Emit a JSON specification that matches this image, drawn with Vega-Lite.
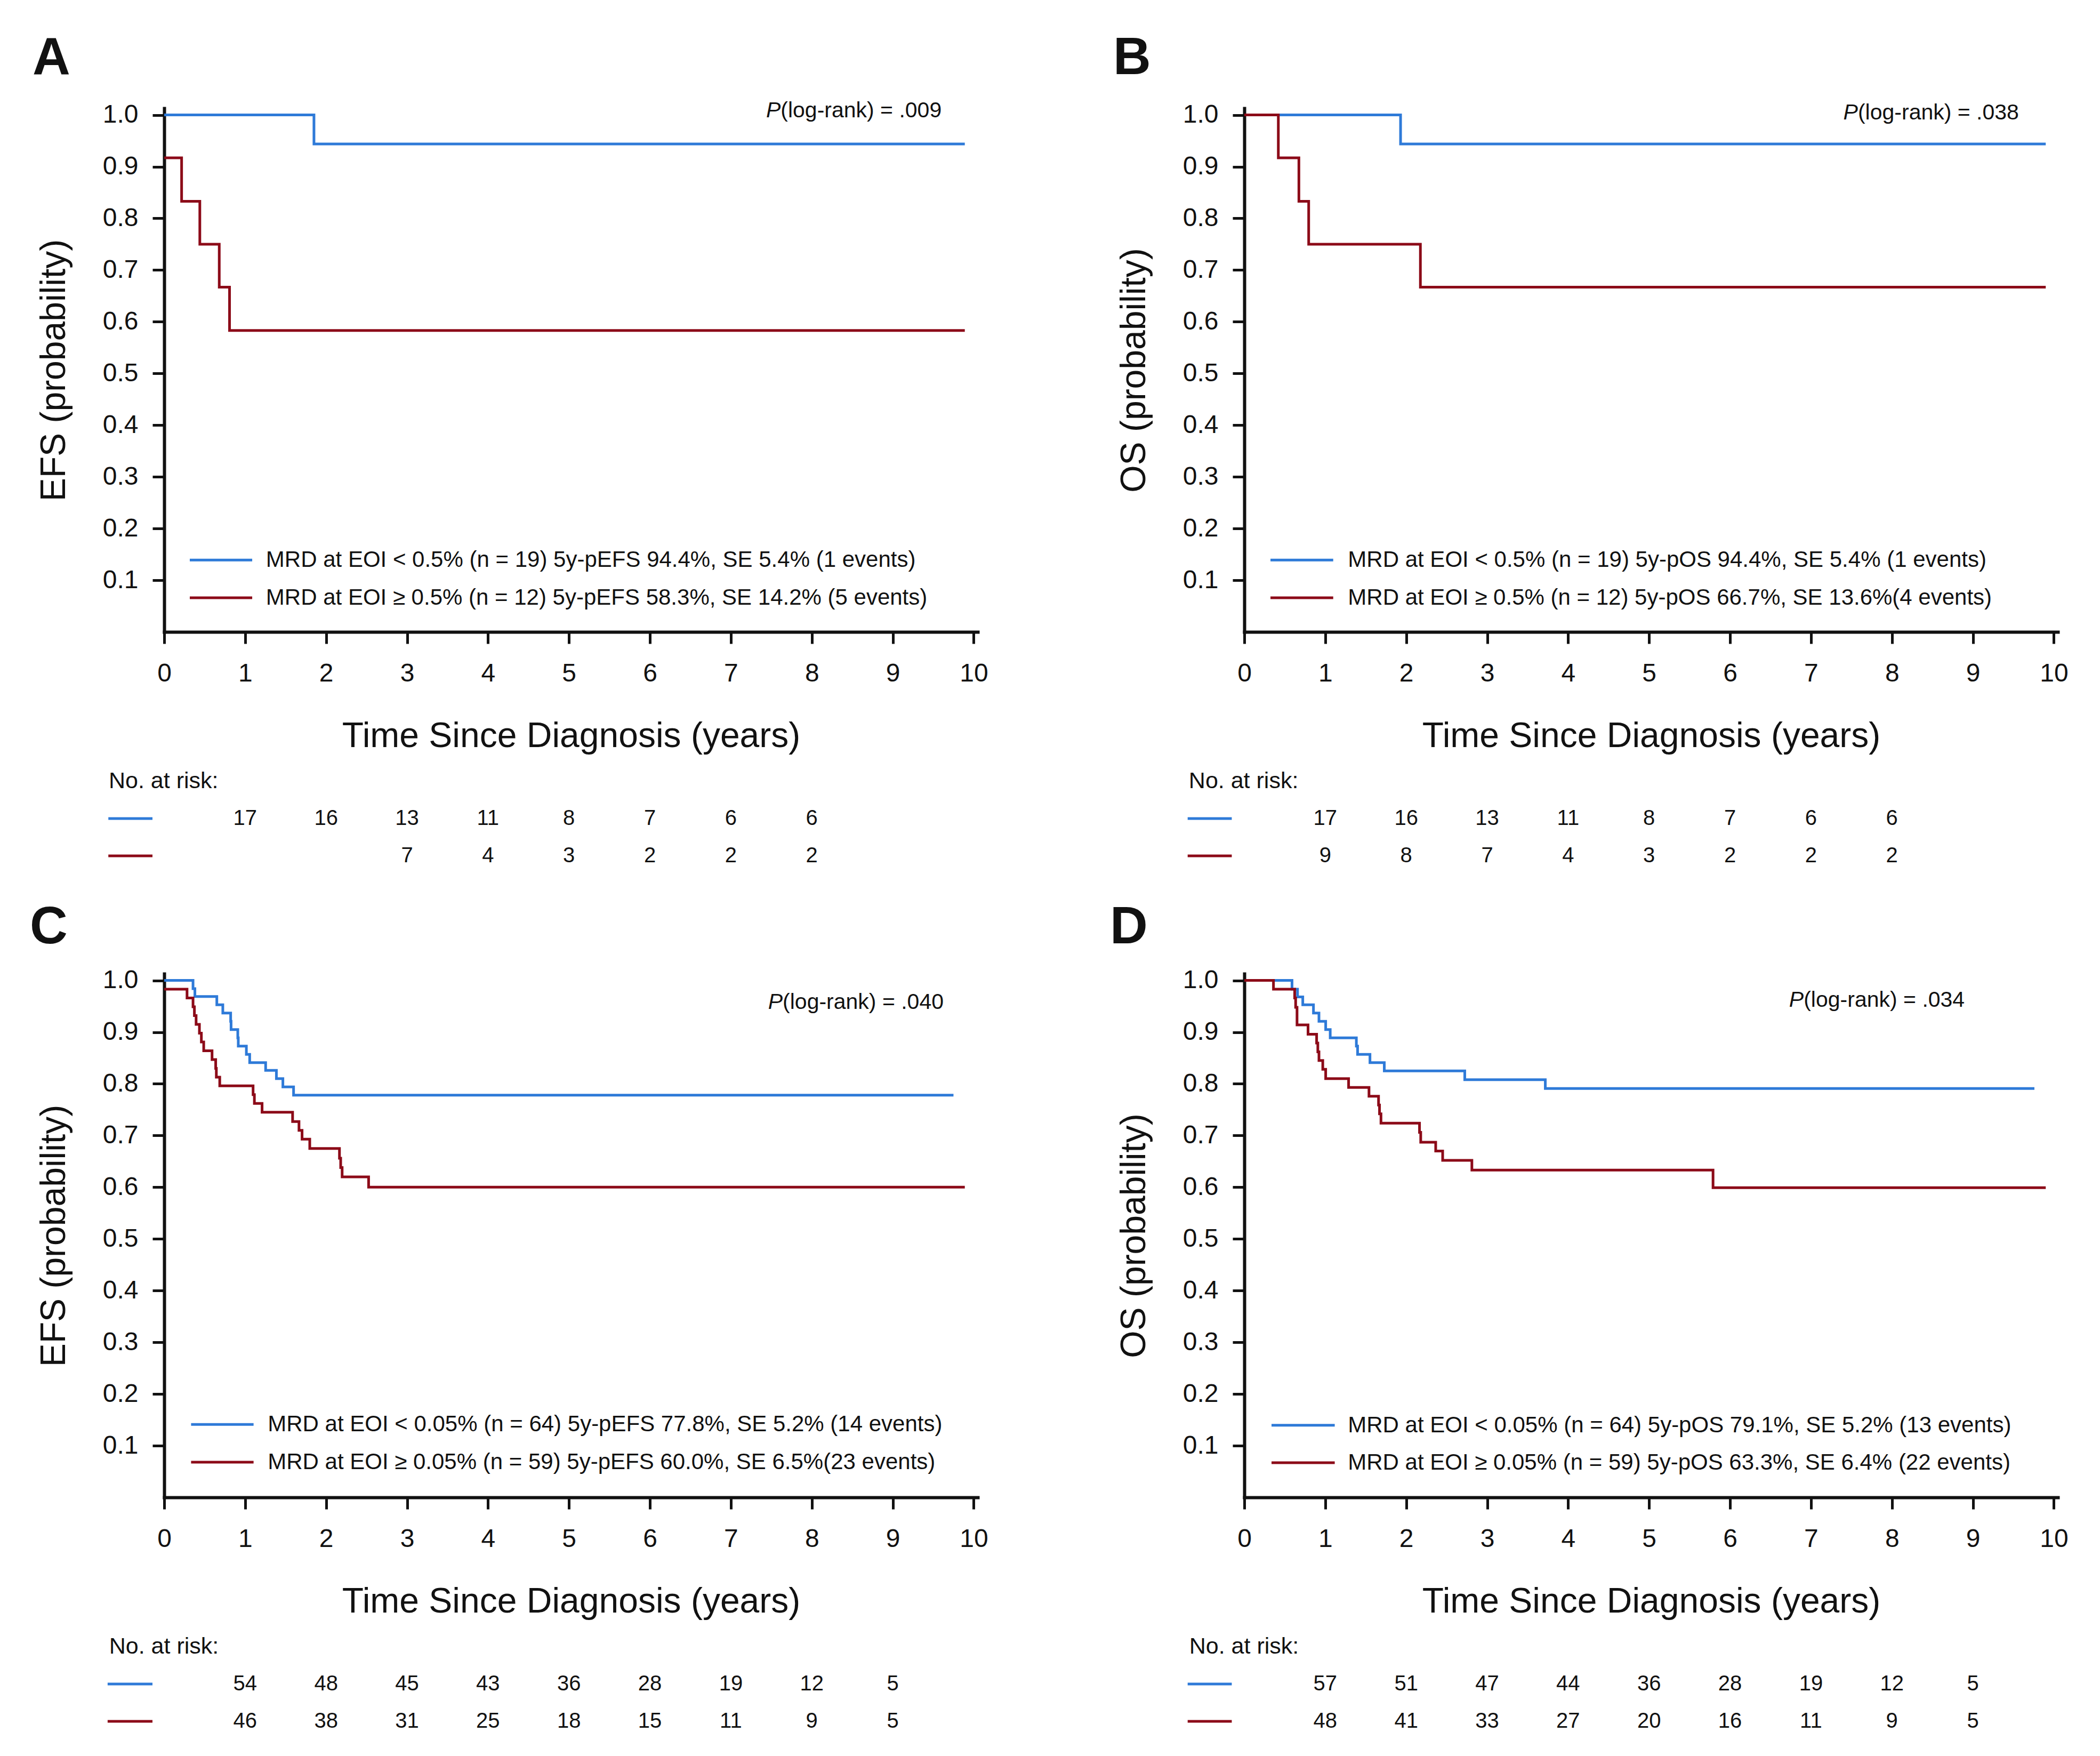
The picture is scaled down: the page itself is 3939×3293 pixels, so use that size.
{
  "$schema": "https://vega.github.io/schema/vega-lite/v6.json",
  "padding": {"left": 55, "top": 61, "right": 20, "bottom": 20},
  "background": "white",
  "bounds": "flush",
  "columns": 2,
  "spacing": {"row": 221, "column": 500},
  "datasets": {
    "km": [
      {"panel":"A","group":"low","t":0,"s":1},{"panel":"A","group":"low","t":1.85,"s":0.944},{"panel":"A","group":"low","t":9.89,"s":0.944},
      {"panel":"A","group":"high","t":0,"s":0.917},{"panel":"A","group":"high","t":0.215,"s":0.833},{"panel":"A","group":"high","t":0.44,"s":0.75},{"panel":"A","group":"high","t":0.68,"s":0.667},{"panel":"A","group":"high","t":0.807,"s":0.583},{"panel":"A","group":"high","t":9.89,"s":0.583},
      {"panel":"B","group":"low","t":0,"s":1},{"panel":"B","group":"low","t":1.93,"s":0.944},{"panel":"B","group":"low","t":9.9,"s":0.944},
      {"panel":"B","group":"high","t":0,"s":1},{"panel":"B","group":"high","t":0.42,"s":0.917},{"panel":"B","group":"high","t":0.674,"s":0.833},{"panel":"B","group":"high","t":0.795,"s":0.75},{"panel":"B","group":"high","t":2.175,"s":0.667},{"panel":"B","group":"high","t":9.9,"s":0.667},
      {"panel":"C","group":"low","t":0,"s":1},{"panel":"C","group":"low","t":0.356,"s":0.984},{"panel":"C","group":"low","t":0.379,"s":0.969},{"panel":"C","group":"low","t":0.65,"s":0.953},{"panel":"C","group":"low","t":0.724,"s":0.937},{"panel":"C","group":"low","t":0.821,"s":0.921},{"panel":"C","group":"low","t":0.826,"s":0.905},{"panel":"C","group":"low","t":0.909,"s":0.889},{"panel":"C","group":"low","t":0.915,"s":0.873},{"panel":"C","group":"low","t":1.015,"s":0.857},{"panel":"C","group":"low","t":1.056,"s":0.841},{"panel":"C","group":"low","t":1.253,"s":0.826},{"panel":"C","group":"low","t":1.386,"s":0.81},{"panel":"C","group":"low","t":1.466,"s":0.794},{"panel":"C","group":"low","t":1.598,"s":0.778},{"panel":"C","group":"low","t":9.75,"s":0.778},
      {"panel":"C","group":"high","t":0,"s":0.983},{"panel":"C","group":"high","t":0.282,"s":0.966},{"panel":"C","group":"high","t":0.356,"s":0.949},{"panel":"C","group":"high","t":0.373,"s":0.932},{"panel":"C","group":"high","t":0.394,"s":0.915},{"panel":"C","group":"high","t":0.435,"s":0.898},{"panel":"C","group":"high","t":0.459,"s":0.881},{"panel":"C","group":"high","t":0.488,"s":0.864},{"panel":"C","group":"high","t":0.591,"s":0.847},{"panel":"C","group":"high","t":0.636,"s":0.83},{"panel":"C","group":"high","t":0.644,"s":0.813},{"panel":"C","group":"high","t":0.686,"s":0.796},{"panel":"C","group":"high","t":1.098,"s":0.779},{"panel":"C","group":"high","t":1.114,"s":0.762},{"panel":"C","group":"high","t":1.209,"s":0.745},{"panel":"C","group":"high","t":1.586,"s":0.727},{"panel":"C","group":"high","t":1.665,"s":0.71},{"panel":"C","group":"high","t":1.703,"s":0.693},{"panel":"C","group":"high","t":1.798,"s":0.675},{"panel":"C","group":"high","t":2.165,"s":0.656},{"panel":"C","group":"high","t":2.18,"s":0.638},{"panel":"C","group":"high","t":2.198,"s":0.62},{"panel":"C","group":"high","t":2.525,"s":0.6},{"panel":"C","group":"high","t":9.89,"s":0.6},
      {"panel":"D","group":"low","t":0,"s":1},{"panel":"D","group":"low","t":0.589,"s":0.983},{"panel":"D","group":"low","t":0.657,"s":0.968},{"panel":"D","group":"low","t":0.722,"s":0.953},{"panel":"D","group":"low","t":0.854,"s":0.937},{"panel":"D","group":"low","t":0.922,"s":0.921},{"panel":"D","group":"low","t":1.005,"s":0.905},{"panel":"D","group":"low","t":1.061,"s":0.889},{"panel":"D","group":"low","t":1.384,"s":0.873},{"panel":"D","group":"low","t":1.399,"s":0.857},{"panel":"D","group":"low","t":1.552,"s":0.841},{"panel":"D","group":"low","t":1.729,"s":0.825},{"panel":"D","group":"low","t":2.723,"s":0.808},{"panel":"D","group":"low","t":3.718,"s":0.791},{"panel":"D","group":"low","t":9.76,"s":0.791},
      {"panel":"D","group":"high","t":0,"s":1},{"panel":"D","group":"high","t":0.36,"s":0.983},{"panel":"D","group":"high","t":0.622,"s":0.966},{"panel":"D","group":"high","t":0.634,"s":0.948},{"panel":"D","group":"high","t":0.651,"s":0.914},{"panel":"D","group":"high","t":0.787,"s":0.896},{"panel":"D","group":"high","t":0.893,"s":0.879},{"panel":"D","group":"high","t":0.908,"s":0.862},{"panel":"D","group":"high","t":0.922,"s":0.845},{"panel":"D","group":"high","t":0.969,"s":0.828},{"panel":"D","group":"high","t":1.005,"s":0.81},{"panel":"D","group":"high","t":1.288,"s":0.793},{"panel":"D","group":"high","t":1.54,"s":0.776},{"panel":"D","group":"high","t":1.658,"s":0.759},{"panel":"D","group":"high","t":1.67,"s":0.742},{"panel":"D","group":"high","t":1.688,"s":0.724},{"panel":"D","group":"high","t":2.164,"s":0.706},{"panel":"D","group":"high","t":2.179,"s":0.687},{"panel":"D","group":"high","t":2.364,"s":0.67},{"panel":"D","group":"high","t":2.45,"s":0.652},{"panel":"D","group":"high","t":2.811,"s":0.633},{"panel":"D","group":"high","t":5.79,"s":0.599},{"panel":"D","group":"high","t":9.9,"s":0.599}
    ],
    "legend": [
      {"panel":"A","group":"low","label":"MRD at EOI < 0.5% (n = 19) 5y-pEFS 94.4%, SE 5.4% (1 events)"},
      {"panel":"A","group":"high","label":"MRD at EOI ≥ 0.5% (n = 12) 5y-pEFS 58.3%, SE 14.2% (5 events)"},
      {"panel":"B","group":"low","label":"MRD at EOI < 0.5% (n = 19) 5y-pOS 94.4%, SE 5.4% (1 events)"},
      {"panel":"B","group":"high","label":"MRD at EOI ≥ 0.5% (n = 12) 5y-pOS 66.7%, SE 13.6%(4 events)"},
      {"panel":"C","group":"low","label":"MRD at EOI < 0.05% (n = 64) 5y-pEFS 77.8%, SE 5.2% (14 events)"},
      {"panel":"C","group":"high","label":"MRD at EOI ≥ 0.05% (n = 59) 5y-pEFS 60.0%, SE 6.5%(23 events)"},
      {"panel":"D","group":"low","label":"MRD at EOI < 0.05% (n = 64) 5y-pOS 79.1%, SE 5.2% (13 events)"},
      {"panel":"D","group":"high","label":"MRD at EOI ≥ 0.05% (n = 59) 5y-pOS 63.3%, SE 6.4% (22 events)"}
    ],
    "annot": [
      {"panel":"A","letter":"A","pItalic":"P","pRest":"(log-rank) = .009","riskLabel":"No. at risk:"},
      {"panel":"B","letter":"B","pItalic":"P","pRest":"(log-rank) = .038","riskLabel":"No. at risk:"},
      {"panel":"C","letter":"C","pItalic":"P","pRest":"(log-rank) = .040","riskLabel":"No. at risk:"},
      {"panel":"D","letter":"D","pItalic":"P","pRest":"(log-rank) = .034","riskLabel":"No. at risk:"}
    ],
    "risk": [
      {"panel":"A","group":"low","t":1,"n":17},{"panel":"A","group":"low","t":2,"n":16},{"panel":"A","group":"low","t":3,"n":13},{"panel":"A","group":"low","t":4,"n":11},{"panel":"A","group":"low","t":5,"n":8},{"panel":"A","group":"low","t":6,"n":7},{"panel":"A","group":"low","t":7,"n":6},{"panel":"A","group":"low","t":8,"n":6},
      {"panel":"A","group":"high","t":3,"n":7},{"panel":"A","group":"high","t":4,"n":4},{"panel":"A","group":"high","t":5,"n":3},{"panel":"A","group":"high","t":6,"n":2},{"panel":"A","group":"high","t":7,"n":2},{"panel":"A","group":"high","t":8,"n":2},
      {"panel":"B","group":"low","t":1,"n":17},{"panel":"B","group":"low","t":2,"n":16},{"panel":"B","group":"low","t":3,"n":13},{"panel":"B","group":"low","t":4,"n":11},{"panel":"B","group":"low","t":5,"n":8},{"panel":"B","group":"low","t":6,"n":7},{"panel":"B","group":"low","t":7,"n":6},{"panel":"B","group":"low","t":8,"n":6},
      {"panel":"B","group":"high","t":1,"n":9},{"panel":"B","group":"high","t":2,"n":8},{"panel":"B","group":"high","t":3,"n":7},{"panel":"B","group":"high","t":4,"n":4},{"panel":"B","group":"high","t":5,"n":3},{"panel":"B","group":"high","t":6,"n":2},{"panel":"B","group":"high","t":7,"n":2},{"panel":"B","group":"high","t":8,"n":2},
      {"panel":"C","group":"low","t":1,"n":54},{"panel":"C","group":"low","t":2,"n":48},{"panel":"C","group":"low","t":3,"n":45},{"panel":"C","group":"low","t":4,"n":43},{"panel":"C","group":"low","t":5,"n":36},{"panel":"C","group":"low","t":6,"n":28},{"panel":"C","group":"low","t":7,"n":19},{"panel":"C","group":"low","t":8,"n":12},{"panel":"C","group":"low","t":9,"n":5},
      {"panel":"C","group":"high","t":1,"n":46},{"panel":"C","group":"high","t":2,"n":38},{"panel":"C","group":"high","t":3,"n":31},{"panel":"C","group":"high","t":4,"n":25},{"panel":"C","group":"high","t":5,"n":18},{"panel":"C","group":"high","t":6,"n":15},{"panel":"C","group":"high","t":7,"n":11},{"panel":"C","group":"high","t":8,"n":9},{"panel":"C","group":"high","t":9,"n":5},
      {"panel":"D","group":"low","t":1,"n":57},{"panel":"D","group":"low","t":2,"n":51},{"panel":"D","group":"low","t":3,"n":47},{"panel":"D","group":"low","t":4,"n":44},{"panel":"D","group":"low","t":5,"n":36},{"panel":"D","group":"low","t":6,"n":28},{"panel":"D","group":"low","t":7,"n":19},{"panel":"D","group":"low","t":8,"n":12},{"panel":"D","group":"low","t":9,"n":5},
      {"panel":"D","group":"high","t":1,"n":48},{"panel":"D","group":"high","t":2,"n":41},{"panel":"D","group":"high","t":3,"n":33},{"panel":"D","group":"high","t":4,"n":27},{"panel":"D","group":"high","t":5,"n":20},{"panel":"D","group":"high","t":6,"n":16},{"panel":"D","group":"high","t":7,"n":11},{"panel":"D","group":"high","t":8,"n":9},{"panel":"D","group":"high","t":9,"n":5}
    ]
  },
  "concat": [
    {
      "width": 1526, "height": 982,
      "layer": [
        {"data":{"name":"km"},"transform":[{"filter":"datum.panel === 'A'"}],
         "mark":{"type":"line","interpolate":"step-after","strokeWidth":5},
         "encoding":{
           "x":{"field":"t","type":"quantitative","scale":{"domain":[0,10.05],"nice":false},"axis":{"title":"Time Since Diagnosis (years)","values":[0,1,2,3,4,5,6,7,8,9,10],"format":"d"}},
           "y":{"field":"s","type":"quantitative","scale":{"domain":[0,1.013],"nice":false},"axis":{"title":"EFS (probability)","values":[0.1,0.2,0.3,0.4,0.5,0.6,0.7,0.8,0.9,1.0],"format":".1f"}},
           "color":{"field":"group","type":"nominal","scale":{"domain":["low","high"],"range":["#2e7ad8","#8c0a18"]},"legend":null}}},
        {"data":{"name":"legend"},"transform":[{"filter":"datum.panel === 'A' && datum.group === 'low'"}],
         "mark":{"type":"rule","strokeWidth":5},
         "encoding":{"x":{"datum":0.316,"type":"quantitative","scale":{"domain":[0,10.05],"nice":false}},"x2":{"datum":1.087},"y":{"datum":0.139,"type":"quantitative","scale":{"domain":[0,1.013],"nice":false}},"color":{"field":"group","type":"nominal","legend":null}}},
        {"data":{"name":"legend"},"transform":[{"filter":"datum.panel === 'A' && datum.group === 'high'"}],
         "mark":{"type":"rule","strokeWidth":5},
         "encoding":{"x":{"datum":0.316,"type":"quantitative","scale":{"domain":[0,10.05],"nice":false}},"x2":{"datum":1.087},"y":{"datum":0.066,"type":"quantitative","scale":{"domain":[0,1.013],"nice":false}},"color":{"field":"group","type":"nominal","legend":null}}},
        {"data":{"name":"legend"},"transform":[{"filter":"datum.panel === 'A' && datum.group === 'low'"}],
         "mark":{"type":"text","align":"left","baseline":"middle","fontSize":42,"color":"#111"},
         "encoding":{"x":{"datum":1.257,"type":"quantitative","scale":{"domain":[0,10.05],"nice":false}},"y":{"datum":0.139,"type":"quantitative","scale":{"domain":[0,1.013],"nice":false}},"text":{"field":"label"}}},
        {"data":{"name":"legend"},"transform":[{"filter":"datum.panel === 'A' && datum.group === 'high'"}],
         "mark":{"type":"text","align":"left","baseline":"middle","fontSize":42,"color":"#111"},
         "encoding":{"x":{"datum":1.257,"type":"quantitative","scale":{"domain":[0,10.05],"nice":false}},"y":{"datum":0.066,"type":"quantitative","scale":{"domain":[0,1.013],"nice":false}},"text":{"field":"label"}}},
        {"data":{"name":"annot"},"transform":[{"filter":"datum.panel === 'A'"}],
         "mark":{"type":"text","align":"right","baseline":"alphabetic","fontSize":41,"fontStyle":"italic","color":"#111"},
         "encoding":{"x":{"datum":7.615,"type":"quantitative","scale":{"domain":[0,10.05],"nice":false}},"y":{"datum":0.995,"type":"quantitative","scale":{"domain":[0,1.013],"nice":false}},"text":{"field":"pItalic"}}},
        {"data":{"name":"annot"},"transform":[{"filter":"datum.panel === 'A'"}],
         "mark":{"type":"text","align":"left","baseline":"alphabetic","fontSize":41,"color":"#111"},
         "encoding":{"x":{"datum":7.615,"type":"quantitative","scale":{"domain":[0,10.05],"nice":false}},"y":{"datum":0.995,"type":"quantitative","scale":{"domain":[0,1.013],"nice":false}},"text":{"field":"pRest"}}},
        {"data":{"name":"annot"},"transform":[{"filter":"datum.panel === 'A'"}],
         "mark":{"type":"text","align":"left","baseline":"alphabetic","fontSize":98,"fontWeight":"bold","color":"#111"},
         "encoding":{"x":{"datum":-1.627,"type":"quantitative","scale":{"domain":[0,10.05],"nice":false}},"y":{"datum":1.079,"type":"quantitative","scale":{"domain":[0,1.013],"nice":false}},"text":{"field":"letter"}}}
      ]
    },
    {
      "width": 1526, "height": 982,
      "layer": [
        {"data":{"name":"km"},"transform":[{"filter":"datum.panel === 'B'"}],
         "mark":{"type":"line","interpolate":"step-after","strokeWidth":5},
         "encoding":{
           "x":{"field":"t","type":"quantitative","scale":{"domain":[0,10.05],"nice":false},"axis":{"title":"Time Since Diagnosis (years)","values":[0,1,2,3,4,5,6,7,8,9,10],"format":"d"}},
           "y":{"field":"s","type":"quantitative","scale":{"domain":[0,1.013],"nice":false},"axis":{"title":"OS (probability)","values":[0.1,0.2,0.3,0.4,0.5,0.6,0.7,0.8,0.9,1.0],"format":".1f"}},
           "color":{"field":"group","type":"nominal","scale":{"domain":["low","high"],"range":["#2e7ad8","#8c0a18"]},"legend":null}}},
        {"data":{"name":"legend"},"transform":[{"filter":"datum.panel === 'B' && datum.group === 'low'"}],
         "mark":{"type":"rule","strokeWidth":5},
         "encoding":{"x":{"datum":0.323,"type":"quantitative","scale":{"domain":[0,10.05],"nice":false}},"x2":{"datum":1.098},"y":{"datum":0.139,"type":"quantitative","scale":{"domain":[0,1.013],"nice":false}},"color":{"field":"group","type":"nominal","legend":null}}},
        {"data":{"name":"legend"},"transform":[{"filter":"datum.panel === 'B' && datum.group === 'high'"}],
         "mark":{"type":"rule","strokeWidth":5},
         "encoding":{"x":{"datum":0.323,"type":"quantitative","scale":{"domain":[0,10.05],"nice":false}},"x2":{"datum":1.098},"y":{"datum":0.066,"type":"quantitative","scale":{"domain":[0,1.013],"nice":false}},"color":{"field":"group","type":"nominal","legend":null}}},
        {"data":{"name":"legend"},"transform":[{"filter":"datum.panel === 'B' && datum.group === 'low'"}],
         "mark":{"type":"text","align":"left","baseline":"middle","fontSize":42,"color":"#111"},
         "encoding":{"x":{"datum":1.28,"type":"quantitative","scale":{"domain":[0,10.05],"nice":false}},"y":{"datum":0.139,"type":"quantitative","scale":{"domain":[0,1.013],"nice":false}},"text":{"field":"label"}}},
        {"data":{"name":"legend"},"transform":[{"filter":"datum.panel === 'B' && datum.group === 'high'"}],
         "mark":{"type":"text","align":"left","baseline":"middle","fontSize":42,"color":"#111"},
         "encoding":{"x":{"datum":1.28,"type":"quantitative","scale":{"domain":[0,10.05],"nice":false}},"y":{"datum":0.066,"type":"quantitative","scale":{"domain":[0,1.013],"nice":false}},"text":{"field":"label"}}},
        {"data":{"name":"annot"},"transform":[{"filter":"datum.panel === 'B'"}],
         "mark":{"type":"text","align":"right","baseline":"alphabetic","fontSize":41,"fontStyle":"italic","color":"#111"},
         "encoding":{"x":{"datum":7.58,"type":"quantitative","scale":{"domain":[0,10.05],"nice":false}},"y":{"datum":0.991,"type":"quantitative","scale":{"domain":[0,1.013],"nice":false}},"text":{"field":"pItalic"}}},
        {"data":{"name":"annot"},"transform":[{"filter":"datum.panel === 'B'"}],
         "mark":{"type":"text","align":"left","baseline":"alphabetic","fontSize":41,"color":"#111"},
         "encoding":{"x":{"datum":7.58,"type":"quantitative","scale":{"domain":[0,10.05],"nice":false}},"y":{"datum":0.991,"type":"quantitative","scale":{"domain":[0,1.013],"nice":false}},"text":{"field":"pRest"}}},
        {"data":{"name":"annot"},"transform":[{"filter":"datum.panel === 'B'"}],
         "mark":{"type":"text","align":"left","baseline":"alphabetic","fontSize":98,"fontWeight":"bold","color":"#111"},
         "encoding":{"x":{"datum":-1.62,"type":"quantitative","scale":{"domain":[0,10.05],"nice":false}},"y":{"datum":1.079,"type":"quantitative","scale":{"domain":[0,1.013],"nice":false}},"text":{"field":"letter"}}}
      ]
    },
    {
      "width": 1526, "height": 199,
      "layer": [
        {"data":{"name":"annot"},"transform":[{"filter":"datum.panel === 'A'"}],
         "mark":{"type":"text","align":"left","baseline":"middle","fontSize":43,"color":"#111"},
         "encoding":{"x":{"datum":-0.685,"type":"quantitative","scale":{"domain":[0,10.05],"nice":false},"axis":null},"y":{"datum":"header","type":"ordinal","scale":{"type":"point","domain":["header","low","high"],"padding":0.4214,"align":1},"axis":null},"text":{"field":"riskLabel"}}},
        {"data":{"name":"legend"},"transform":[{"filter":"datum.panel === 'A'"}],
         "mark":{"type":"rule","strokeWidth":5},
         "encoding":{"x":{"datum":-0.69,"type":"quantitative","scale":{"domain":[0,10.05],"nice":false},"axis":null},"x2":{"datum":-0.145},"y":{"field":"group","type":"ordinal","scale":{"type":"point","domain":["header","low","high"],"padding":0.4214,"align":1},"axis":null},"color":{"field":"group","type":"nominal","scale":{"domain":["low","high"],"range":["#2e7ad8","#8c0a18"]},"legend":null}}},
        {"data":{"name":"risk"},"transform":[{"filter":"datum.panel === 'A'"}],
         "mark":{"type":"text","align":"center","baseline":"middle","fontSize":40,"color":"#111"},
         "encoding":{"x":{"field":"t","type":"quantitative","scale":{"domain":[0,10.05],"nice":false},"axis":null},"y":{"field":"group","type":"ordinal","scale":{"type":"point","domain":["header","low","high"],"padding":0.4214,"align":1},"axis":null},"text":{"field":"n"}}}
      ]
    },
    {
      "width": 1526, "height": 199,
      "layer": [
        {"data":{"name":"annot"},"transform":[{"filter":"datum.panel === 'B'"}],
         "mark":{"type":"text","align":"left","baseline":"middle","fontSize":43,"color":"#111"},
         "encoding":{"x":{"datum":-0.686,"type":"quantitative","scale":{"domain":[0,10.05],"nice":false},"axis":null},"y":{"datum":"header","type":"ordinal","scale":{"type":"point","domain":["header","low","high"],"padding":0.4214,"align":1},"axis":null},"text":{"field":"riskLabel"}}},
        {"data":{"name":"legend"},"transform":[{"filter":"datum.panel === 'B'"}],
         "mark":{"type":"rule","strokeWidth":5},
         "encoding":{"x":{"datum":-0.7,"type":"quantitative","scale":{"domain":[0,10.05],"nice":false},"axis":null},"x2":{"datum":-0.155},"y":{"field":"group","type":"ordinal","scale":{"type":"point","domain":["header","low","high"],"padding":0.4214,"align":1},"axis":null},"color":{"field":"group","type":"nominal","scale":{"domain":["low","high"],"range":["#2e7ad8","#8c0a18"]},"legend":null}}},
        {"data":{"name":"risk"},"transform":[{"filter":"datum.panel === 'B'"}],
         "mark":{"type":"text","align":"center","baseline":"middle","fontSize":40,"color":"#111"},
         "encoding":{"x":{"field":"t","type":"quantitative","scale":{"domain":[0,10.05],"nice":false},"axis":null},"y":{"field":"group","type":"ordinal","scale":{"type":"point","domain":["header","low","high"],"padding":0.4214,"align":1},"axis":null},"text":{"field":"n"}}}
      ]
    },
    {
      "width": 1526, "height": 982,
      "layer": [
        {"data":{"name":"km"},"transform":[{"filter":"datum.panel === 'C'"}],
         "mark":{"type":"line","interpolate":"step-after","strokeWidth":5},
         "encoding":{
           "x":{"field":"t","type":"quantitative","scale":{"domain":[0,10.05],"nice":false},"axis":{"title":"Time Since Diagnosis (years)","values":[0,1,2,3,4,5,6,7,8,9,10],"format":"d"}},
           "y":{"field":"s","type":"quantitative","scale":{"domain":[0,1.013],"nice":false},"axis":{"title":"EFS (probability)","values":[0.1,0.2,0.3,0.4,0.5,0.6,0.7,0.8,0.9,1.0],"format":".1f"}},
           "color":{"field":"group","type":"nominal","scale":{"domain":["low","high"],"range":["#2e7ad8","#8c0a18"]},"legend":null}}},
        {"data":{"name":"legend"},"transform":[{"filter":"datum.panel === 'C' && datum.group === 'low'"}],
         "mark":{"type":"rule","strokeWidth":5},
         "encoding":{"x":{"datum":0.332,"type":"quantitative","scale":{"domain":[0,10.05],"nice":false}},"x2":{"datum":1.104},"y":{"datum":0.141,"type":"quantitative","scale":{"domain":[0,1.013],"nice":false}},"color":{"field":"group","type":"nominal","legend":null}}},
        {"data":{"name":"legend"},"transform":[{"filter":"datum.panel === 'C' && datum.group === 'high'"}],
         "mark":{"type":"rule","strokeWidth":5},
         "encoding":{"x":{"datum":0.332,"type":"quantitative","scale":{"domain":[0,10.05],"nice":false}},"x2":{"datum":1.104},"y":{"datum":0.068,"type":"quantitative","scale":{"domain":[0,1.013],"nice":false}},"color":{"field":"group","type":"nominal","legend":null}}},
        {"data":{"name":"legend"},"transform":[{"filter":"datum.panel === 'C' && datum.group === 'low'"}],
         "mark":{"type":"text","align":"left","baseline":"middle","fontSize":42,"color":"#111"},
         "encoding":{"x":{"datum":1.279,"type":"quantitative","scale":{"domain":[0,10.05],"nice":false}},"y":{"datum":0.141,"type":"quantitative","scale":{"domain":[0,1.013],"nice":false}},"text":{"field":"label"}}},
        {"data":{"name":"legend"},"transform":[{"filter":"datum.panel === 'C' && datum.group === 'high'"}],
         "mark":{"type":"text","align":"left","baseline":"middle","fontSize":42,"color":"#111"},
         "encoding":{"x":{"datum":1.279,"type":"quantitative","scale":{"domain":[0,10.05],"nice":false}},"y":{"datum":0.068,"type":"quantitative","scale":{"domain":[0,1.013],"nice":false}},"text":{"field":"label"}}},
        {"data":{"name":"annot"},"transform":[{"filter":"datum.panel === 'C'"}],
         "mark":{"type":"text","align":"right","baseline":"alphabetic","fontSize":41,"fontStyle":"italic","color":"#111"},
         "encoding":{"x":{"datum":7.64,"type":"quantitative","scale":{"domain":[0,10.05],"nice":false}},"y":{"datum":0.945,"type":"quantitative","scale":{"domain":[0,1.013],"nice":false}},"text":{"field":"pItalic"}}},
        {"data":{"name":"annot"},"transform":[{"filter":"datum.panel === 'C'"}],
         "mark":{"type":"text","align":"left","baseline":"alphabetic","fontSize":41,"color":"#111"},
         "encoding":{"x":{"datum":7.64,"type":"quantitative","scale":{"domain":[0,10.05],"nice":false}},"y":{"datum":0.945,"type":"quantitative","scale":{"domain":[0,1.013],"nice":false}},"text":{"field":"pRest"}}},
        {"data":{"name":"annot"},"transform":[{"filter":"datum.panel === 'C'"}],
         "mark":{"type":"text","align":"left","baseline":"alphabetic","fontSize":98,"fontWeight":"bold","color":"#111"},
         "encoding":{"x":{"datum":-1.66,"type":"quantitative","scale":{"domain":[0,10.05],"nice":false}},"y":{"datum":1.072,"type":"quantitative","scale":{"domain":[0,1.013],"nice":false}},"text":{"field":"letter"}}}
      ]
    },
    {
      "width": 1526, "height": 982,
      "layer": [
        {"data":{"name":"km"},"transform":[{"filter":"datum.panel === 'D'"}],
         "mark":{"type":"line","interpolate":"step-after","strokeWidth":5},
         "encoding":{
           "x":{"field":"t","type":"quantitative","scale":{"domain":[0,10.05],"nice":false},"axis":{"title":"Time Since Diagnosis (years)","values":[0,1,2,3,4,5,6,7,8,9,10],"format":"d"}},
           "y":{"field":"s","type":"quantitative","scale":{"domain":[0,1.013],"nice":false},"axis":{"title":"OS (probability)","values":[0.1,0.2,0.3,0.4,0.5,0.6,0.7,0.8,0.9,1.0],"format":".1f"}},
           "color":{"field":"group","type":"nominal","scale":{"domain":["low","high"],"range":["#2e7ad8","#8c0a18"]},"legend":null}}},
        {"data":{"name":"legend"},"transform":[{"filter":"datum.panel === 'D' && datum.group === 'low'"}],
         "mark":{"type":"rule","strokeWidth":5},
         "encoding":{"x":{"datum":0.336,"type":"quantitative","scale":{"domain":[0,10.05],"nice":false}},"x2":{"datum":1.117},"y":{"datum":0.1395,"type":"quantitative","scale":{"domain":[0,1.013],"nice":false}},"color":{"field":"group","type":"nominal","legend":null}}},
        {"data":{"name":"legend"},"transform":[{"filter":"datum.panel === 'D' && datum.group === 'high'"}],
         "mark":{"type":"rule","strokeWidth":5},
         "encoding":{"x":{"datum":0.336,"type":"quantitative","scale":{"domain":[0,10.05],"nice":false}},"x2":{"datum":1.117},"y":{"datum":0.067,"type":"quantitative","scale":{"domain":[0,1.013],"nice":false}},"color":{"field":"group","type":"nominal","legend":null}}},
        {"data":{"name":"legend"},"transform":[{"filter":"datum.panel === 'D' && datum.group === 'low'"}],
         "mark":{"type":"text","align":"left","baseline":"middle","fontSize":42,"color":"#111"},
         "encoding":{"x":{"datum":1.279,"type":"quantitative","scale":{"domain":[0,10.05],"nice":false}},"y":{"datum":0.1395,"type":"quantitative","scale":{"domain":[0,1.013],"nice":false}},"text":{"field":"label"}}},
        {"data":{"name":"legend"},"transform":[{"filter":"datum.panel === 'D' && datum.group === 'high'"}],
         "mark":{"type":"text","align":"left","baseline":"middle","fontSize":42,"color":"#111"},
         "encoding":{"x":{"datum":1.279,"type":"quantitative","scale":{"domain":[0,10.05],"nice":false}},"y":{"datum":0.067,"type":"quantitative","scale":{"domain":[0,1.013],"nice":false}},"text":{"field":"label"}}},
        {"data":{"name":"annot"},"transform":[{"filter":"datum.panel === 'D'"}],
         "mark":{"type":"text","align":"right","baseline":"alphabetic","fontSize":41,"fontStyle":"italic","color":"#111"},
         "encoding":{"x":{"datum":6.91,"type":"quantitative","scale":{"domain":[0,10.05],"nice":false}},"y":{"datum":0.949,"type":"quantitative","scale":{"domain":[0,1.013],"nice":false}},"text":{"field":"pItalic"}}},
        {"data":{"name":"annot"},"transform":[{"filter":"datum.panel === 'D'"}],
         "mark":{"type":"text","align":"left","baseline":"alphabetic","fontSize":41,"color":"#111"},
         "encoding":{"x":{"datum":6.91,"type":"quantitative","scale":{"domain":[0,10.05],"nice":false}},"y":{"datum":0.949,"type":"quantitative","scale":{"domain":[0,1.013],"nice":false}},"text":{"field":"pRest"}}},
        {"data":{"name":"annot"},"transform":[{"filter":"datum.panel === 'D'"}],
         "mark":{"type":"text","align":"left","baseline":"alphabetic","fontSize":98,"fontWeight":"bold","color":"#111"},
         "encoding":{"x":{"datum":-1.66,"type":"quantitative","scale":{"domain":[0,10.05],"nice":false}},"y":{"datum":1.072,"type":"quantitative","scale":{"domain":[0,1.013],"nice":false}},"text":{"field":"letter"}}}
      ]
    },
    {
      "width": 1526, "height": 199,
      "layer": [
        {"data":{"name":"annot"},"transform":[{"filter":"datum.panel === 'C'"}],
         "mark":{"type":"text","align":"left","baseline":"middle","fontSize":43,"color":"#111"},
         "encoding":{"x":{"datum":-0.68,"type":"quantitative","scale":{"domain":[0,10.05],"nice":false},"axis":null},"y":{"datum":"header","type":"ordinal","scale":{"type":"point","domain":["header","low","high"],"padding":0.4214,"align":1},"axis":null},"text":{"field":"riskLabel"}}},
        {"data":{"name":"legend"},"transform":[{"filter":"datum.panel === 'C'"}],
         "mark":{"type":"rule","strokeWidth":5},
         "encoding":{"x":{"datum":-0.699,"type":"quantitative","scale":{"domain":[0,10.05],"nice":false},"axis":null},"x2":{"datum":-0.145},"y":{"field":"group","type":"ordinal","scale":{"type":"point","domain":["header","low","high"],"padding":0.4214,"align":1},"axis":null},"color":{"field":"group","type":"nominal","scale":{"domain":["low","high"],"range":["#2e7ad8","#8c0a18"]},"legend":null}}},
        {"data":{"name":"risk"},"transform":[{"filter":"datum.panel === 'C'"}],
         "mark":{"type":"text","align":"center","baseline":"middle","fontSize":40,"color":"#111"},
         "encoding":{"x":{"field":"t","type":"quantitative","scale":{"domain":[0,10.05],"nice":false},"axis":null},"y":{"field":"group","type":"ordinal","scale":{"type":"point","domain":["header","low","high"],"padding":0.4214,"align":1},"axis":null},"text":{"field":"n"}}}
      ]
    },
    {
      "width": 1526, "height": 199,
      "layer": [
        {"data":{"name":"annot"},"transform":[{"filter":"datum.panel === 'D'"}],
         "mark":{"type":"text","align":"left","baseline":"middle","fontSize":43,"color":"#111"},
         "encoding":{"x":{"datum":-0.68,"type":"quantitative","scale":{"domain":[0,10.05],"nice":false},"axis":null},"y":{"datum":"header","type":"ordinal","scale":{"type":"point","domain":["header","low","high"],"padding":0.4214,"align":1},"axis":null},"text":{"field":"riskLabel"}}},
        {"data":{"name":"legend"},"transform":[{"filter":"datum.panel === 'D'"}],
         "mark":{"type":"rule","strokeWidth":5},
         "encoding":{"x":{"datum":-0.7,"type":"quantitative","scale":{"domain":[0,10.05],"nice":false},"axis":null},"x2":{"datum":-0.155},"y":{"field":"group","type":"ordinal","scale":{"type":"point","domain":["header","low","high"],"padding":0.4214,"align":1},"axis":null},"color":{"field":"group","type":"nominal","scale":{"domain":["low","high"],"range":["#2e7ad8","#8c0a18"]},"legend":null}}},
        {"data":{"name":"risk"},"transform":[{"filter":"datum.panel === 'D'"}],
         "mark":{"type":"text","align":"center","baseline":"middle","fontSize":40,"color":"#111"},
         "encoding":{"x":{"field":"t","type":"quantitative","scale":{"domain":[0,10.05],"nice":false},"axis":null},"y":{"field":"group","type":"ordinal","scale":{"type":"point","domain":["header","low","high"],"padding":0.4214,"align":1},"axis":null},"text":{"field":"n"}}}
      ]
    }
  ],
  "config": {
    "view": {"stroke": null},
    "font": "Liberation Sans",
    "text": {"font": "Liberation Sans"},
    "axis": {
      "grid": false,
      "domainColor": "#111", "domainWidth": 6, "domainCap": "square",
      "tickColor": "#111", "tickWidth": 5, "tickSize": 22,
      "labelFont": "Liberation Sans", "labelFontSize": 48, "labelColor": "#111",
      "titleFont": "Liberation Sans", "titleFontSize": 66, "titleFontWeight": "normal", "titleColor": "#111",
      "labelFlush": false, "labelOverlap": false
    },
    "axisX": {"labelPadding": 32, "titlePadding": 61},
    "axisY": {"labelPadding": 27, "titlePadding": 57}
  }
}
